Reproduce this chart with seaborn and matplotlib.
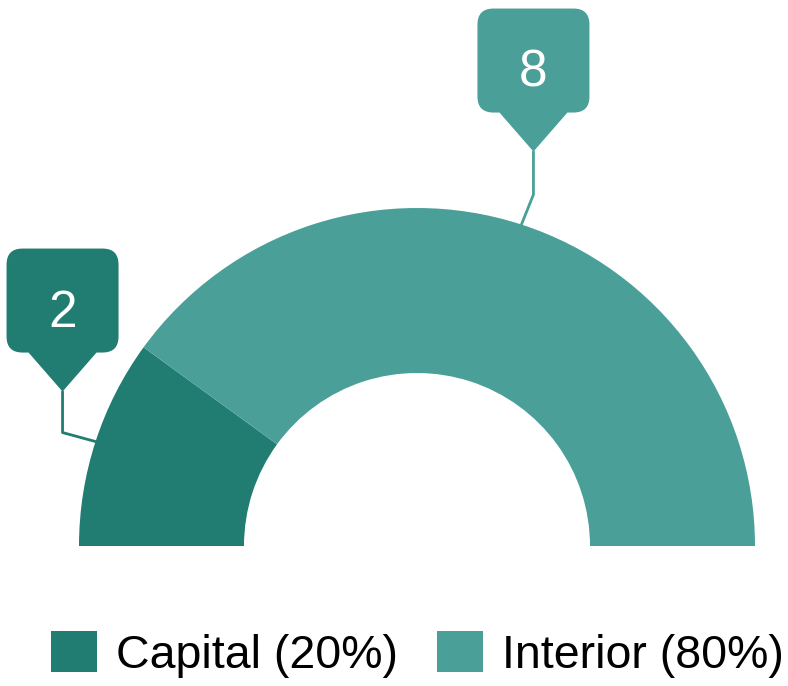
import numpy as np
import matplotlib
matplotlib.use('Agg')
import matplotlib.pyplot as plt
from matplotlib.path import Path
from matplotlib.patches import PathPatch
import seaborn as sns

categories = ['Capital', 'Interior']
values = [2, 8]
colors = ['#217C72', '#4AA098']

sns.set_style('white')
plt.rcParams['font.family'] = ['Liberation Sans', 'DejaVu Sans']
plt.rcParams['text.color'] = 'black'

fig = plt.figure(figsize=(7.88, 6.86), dpi=100)
ax = fig.add_axes([0, 0, 1, 1])

# half donut: pie with an invisible filler slice equal to the total
cx, cy, r_out, ring = 417, 140, 338, 165
total = sum(values)
wedges, _ = ax.pie(values + [total], colors=colors + ['white'], startangle=180,
                   counterclock=False, center=(cx, cy), radius=r_out,
                   wedgeprops=dict(width=ring, linewidth=0))
wedges[-1].set_visible(False)
ax.set_xlim(0, 788)
ax.set_ylim(0, 686)
ax.set_aspect('equal')
ax.axis('off')


def callout(tip, color, text):
    w, h, r, pw, ph = 112, 104, 16, 34, 39
    xt, yt = tip
    yb = yt + ph
    ytop = yb + h
    xl, xr = xt - w / 2, xt + w / 2
    verts = [(xt, yt), (xt + pw, yb), (xr - r, yb), (xr, yb), (xr, yb + r),
             (xr, ytop - r), (xr, ytop), (xr - r, ytop), (xl + r, ytop), (xl, ytop),
             (xl, ytop - r), (xl, yb + r), (xl, yb), (xl + r, yb), (xt - pw, yb), (xt, yt)]
    codes = [Path.MOVETO, Path.LINETO, Path.LINETO, Path.CURVE3, Path.CURVE3,
             Path.LINETO, Path.CURVE3, Path.CURVE3, Path.LINETO, Path.CURVE3,
             Path.CURVE3, Path.LINETO, Path.CURVE3, Path.CURVE3, Path.LINETO, Path.CLOSEPOLY]
    ax.add_patch(PathPatch(Path(verts, codes), facecolor=color, edgecolor='none'))
    ax.text(xt, yb + h / 2 - 26, text, color='white', fontsize=37,
            ha='center', va='baseline')


# tip offset from the anchor on the outer edge, and elbow height
offsets = [(-33, 50, 9), (12, 73, 30)]
for wdg, val, col, (dx, dy, el) in zip(wedges[:2], values, colors, offsets):
    mid = np.deg2rad((wdg.theta1 + wdg.theta2) / 2)
    ax_, ay_ = cx + r_out * np.cos(mid), cy + r_out * np.sin(mid)
    tip = (ax_ + dx, ay_ + dy)
    ax.plot([ax_, tip[0], tip[0]], [ay_, ay_ + el, tip[1]], color=col, lw=2)
    callout(tip, col, str(val))

labels = [f'{c} ({v / total * 100:.0f}%)' for c, v in zip(categories, values)]
ax.legend(wedges[:2], labels, loc='center', bbox_to_anchor=(0.53, 0.046),
          ncol=2, frameon=False, fontsize=33.5, handlelength=0.99, handleheight=0.97,
          handletextpad=0.41, columnspacing=0.84, borderpad=0)

fig.savefig('out.png', dpi=100)
